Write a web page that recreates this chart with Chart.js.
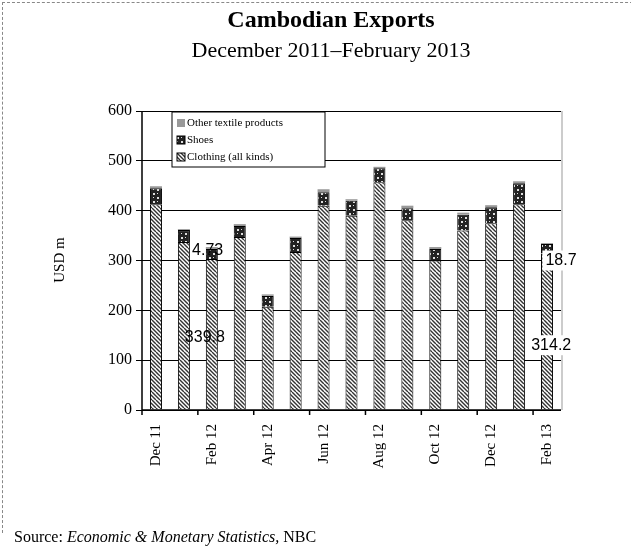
<!DOCTYPE html>
<html><head><script src="https://cdn.jsdelivr.net/npm/chart.js@4"></script>
<style>body{margin:0;background:#fff}#w{position:relative;width:631px;height:550px}
#src{position:absolute;left:14px;top:528px;font:16px "Liberation Serif";}
#fr{position:absolute;left:2px;top:2px;width:640px;height:530px;border-left:1px dashed #888;border-top:1px dashed #888}</style></head>
<body><div id="w"><div id="fr"></div><canvas id="c" width="631" height="520"></canvas>
<div id="src">Source: <i>Economic &amp; Monetary Statistics,</i> NBC</div></div>
<script>
const categories=["Dec 11","Jan 12","Feb 12","Mar 12","Apr 12","May 12","Jun 12","Jul 12","Aug 12","Sep 12","Oct 12","Nov 12","Dec 12","Jan 13","Feb 13"];
const clothing=[413,337,303,347,207,317,410,390,457,381,300,360,375,413,314.2];
const shoes=[32,24,20,22,22,28,27,30,28,24,23,32,32,42,18.7];
const otherTextile=[4,2,4,4,3,3,6,3,3,5,4,4,4,4,2];
const yTicks=[0,100,200,300,400,500,600];
const annotations=[{t:"4.73",i:2.35,v:320},{t:"339.8",i:2.25,v:146},{t:"18.7",i:15.0,v:300},{t:"314.2",i:14.65,v:130}];
function pat(kind){const c=document.createElement('canvas');c.width=c.height=8;const g=c.getContext('2d');
 if(kind==='hatch'){g.fillStyle='#fff';g.fillRect(0,0,8,8);g.strokeStyle='#333';g.lineWidth=1.4;
  g.beginPath();for(let k=-8;k<=16;k+=4){g.moveTo(k,0);g.lineTo(k+8,8);}g.stroke();}
 else{g.fillStyle='#222';g.fillRect(0,0,8,8);g.fillStyle='#ddd';g.fillRect(1,1,2,2);g.fillRect(5,5,2,2);g.fillRect(5,1,1,1);g.fillRect(1,5,1,1);}
 return g.createPattern(c,'repeat');}
const ctx=document.getElementById('c').getContext('2d');
const draw={id:'d',afterDraw(ch){const g=ch.ctx,a=ch.chartArea,x=ch.scales.x,y=ch.scales.y;g.save();
 g.fillStyle='#000';g.textAlign='center';g.font='bold 24px "Liberation Serif"';g.fillText('Cambodian Exports',331,27);
 g.font='22px "Liberation Serif"';g.fillText('December 2011\u2013February 2013',331,57);
 g.translate(64,260);g.rotate(-Math.PI/2);g.font='15px "Liberation Serif"';g.fillText('USD m',0,0);g.setTransform(1,0,0,1,0,0);
 g.strokeStyle='#000';g.lineWidth=1.5;g.beginPath();g.moveTo(a.left,a.bottom);g.lineTo(a.right,a.bottom);g.moveTo(a.left,a.top);g.lineTo(a.left,a.bottom);
 const step=(a.right-a.left)/categories.length;for(let k=0;k<=categories.length;k+=2){const px=a.left+k*step;g.moveTo(px,a.bottom);g.lineTo(px,a.bottom+5);}g.stroke();
 g.strokeStyle='#999';g.lineWidth=1;g.beginPath();g.moveTo(a.right+1,a.top);g.lineTo(a.right+1,a.bottom);g.stroke();
 g.fillStyle='#fff';g.strokeStyle='#000';g.lineWidth=1;g.fillRect(172,112,153,55);g.strokeRect(172,112,153,55);
 const items=[['Other textile products','#999'],['Shoes',pat('x')],['Clothing (all kinds)',pat('hatch')]];
 g.font='11px "Liberation Serif"';g.textAlign='left';g.textBaseline='middle';
 items.forEach((it,k)=>{const yy=123+k*17;g.fillStyle=it[1];g.fillRect(177,yy-4,8,8);g.strokeStyle='#000';if(k)g.strokeRect(177,yy-4,8,8);g.fillStyle='#000';g.fillText(it[0],187,yy);});
 g.font='16px "Liberation Sans"';g.textAlign='center';
 annotations.forEach(n=>{const px=a.left+n.i*step,py=y.getPixelForValue(n.v);const w=g.measureText(n.t).width+6;g.fillStyle='#fff';if(n.i>14.5)g.fillRect(px-w/2,py-10,w,20);g.fillStyle='#000';g.fillText(n.t,px,py);});
 g.restore();}};
new Chart(ctx,{type:'bar',data:{labels:categories,datasets:[
 {label:'Clothing (all kinds)',data:clothing,backgroundColor:pat('hatch'),borderColor:'#000',borderWidth:1},
 {label:'Shoes',data:shoes,backgroundColor:pat('x'),borderColor:'#000',borderWidth:1},
 {label:'Other textile products',data:otherTextile,backgroundColor:'#999',borderWidth:0}]},
 options:{responsive:false,animation:false,layout:{padding:{top:111,right:70,left:0,bottom:0}},
 datasets:{bar:{categoryPercentage:1,barPercentage:0.43}},
 plugins:{legend:{display:false},tooltip:{enabled:false}},
 scales:{x:{stacked:true,grid:{display:false},border:{display:false},ticks:{color:'#000',padding:6,font:{family:'Liberation Serif',size:15},maxRotation:90,minRotation:90,autoSkip:false,callback:(v,i)=>i%2===0?categories[i]:''},afterFit:s=>{s.height=110}},
  y:{stacked:true,min:0,max:600,afterBuildTicks:s=>{s.ticks=yTicks.map(v=>({value:v}))},grid:{color:'#000',lineWidth:1,tickLength:6},border:{display:false},ticks:{color:'#000',font:{family:'Liberation Serif',size:16},padding:4},afterFit:s=>{s.width=142}}}},
 plugins:[draw]});
</script></body></html>
